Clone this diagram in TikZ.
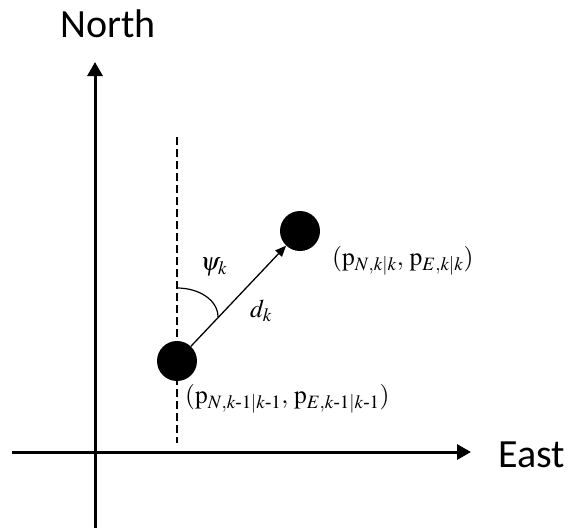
\documentclass[tikz,border=0pt]{standalone}
\usepackage{amsmath}
\usepackage{mathptmx}
\usepackage{fontspec}
\setmainfont{Liberation Serif}
\newfontfamily\calibri{Carlito}
\usetikzlibrary{arrows.meta}
\begin{document}
\begin{tikzpicture}[x=1pt,y=-1pt,
  axis/.style={line width=3pt,-{Triangle[length=14pt,width=15pt]}},
  dot/.style={circle,fill=black,inner sep=0pt,minimum size=40pt},
  axlabel/.style={font=\calibri\fontsize{40}{44}\selectfont,inner sep=0pt},
  mlabel/.style={font=\fontsize{25.5}{30}\selectfont,inner sep=0pt},
  guide/.style={line width=1.1pt,dash pattern=on 8pt off 4pt},
  move/.style={line width=1.3pt,-{Triangle[length=11pt,width=9pt]}}]
\useasboundingbox (0,0) rectangle (571,528);
% axes
\coordinate (ybot) at (95,528);
\coordinate (ytop) at (95,62);
\coordinate (xleft) at (12,452);
\coordinate (xright) at (471,452);
\draw[axis] (ybot) -- (ytop);
\draw[axis] (xleft) -- (xright);
\node[axlabel,anchor=base] (north) at (108,37) {North};
\node[axlabel,anchor=base west] (east) at (498,467) {East};
% dashed guide
\coordinate (gtop) at (177,137);
\coordinate (gbot) at (177,443);
\draw[guide] (gtop) -- (gbot);
% dots
\node[dot] (prev) at (177,361) {};
\node[dot] (curr) at (300,231) {};
\draw[move] (prev) -- (curr);
% angle arc
\coordinate (a1) at (177,288);
\coordinate (a2) at (218,317);
\draw[line width=1.2pt] (a1) .. controls (199,288) and (218,300) .. (a2);
% labels
\node[mlabel,anchor=base] (psi) at (214,270) {$\psi_k$};
\node[mlabel,anchor=base] (dk) at (261,317) {$d_k$};
\node[mlabel,anchor=base west] (lcurr) at (332,265) {$(\mathrm{p}_{N,k|k},\,\mathrm{p}_{E,k|k})$};
\node[mlabel,anchor=base west] (lprev) at (185,403) {$(\mathrm{p}_{N,k\text{-}1|k\text{-}1},\,\mathrm{p}_{E,k\text{-}1|k\text{-}1})$};
\end{tikzpicture}
\end{document}
